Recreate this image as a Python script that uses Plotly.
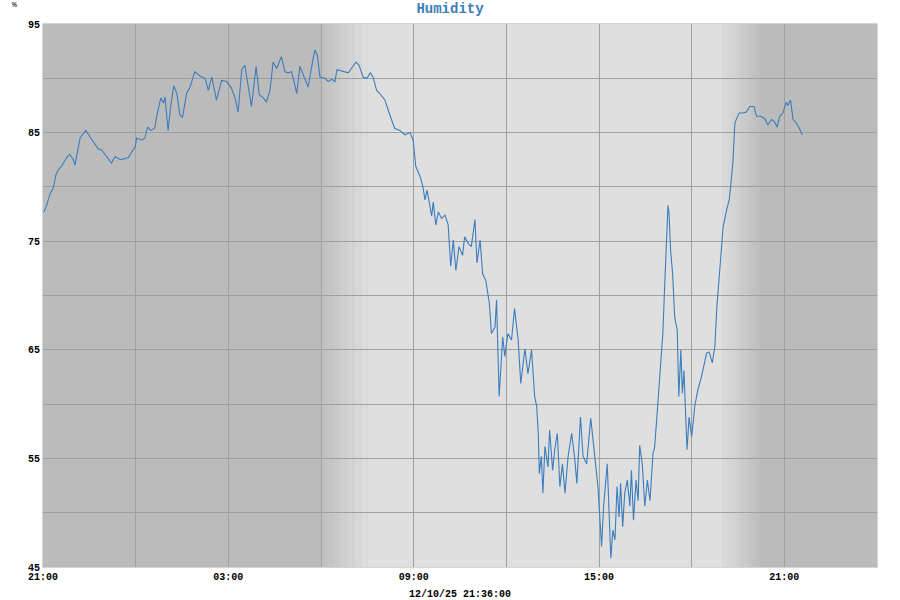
import plotly.graph_objects as go
import pandas as pd
import numpy as np

# minutes after 12/09/25 21:00 and relative humidity (%)
minutes = [2, 7, 14, 20, 25, 30, 36, 46, 52, 59, 62, 65, 72, 83, 91, 101, 107, 114, 124, 133,
           140, 150, 159, 166, 172, 179, 182, 192, 198, 203, 209, 217, 222, 229, 234, 237, 243, 248, 254, 260,
           266, 271, 279, 285, 295, 305, 315, 321, 328, 337, 347, 357, 366, 373, 379, 386, 392, 399, 405, 414,
           420, 428, 434, 441, 447, 454, 463, 470, 476, 483, 493, 499, 509, 515, 522, 528, 533, 538, 548, 554,
           561, 567, 571, 583, 593, 599, 608, 614, 622, 629, 636, 641, 648, 654, 664, 674, 683, 693, 703, 713,
           719, 724, 729, 733, 738, 742, 746, 755, 758, 763, 768, 774, 781, 787, 792, 797, 802, 808, 815, 819,
           826, 832, 839, 843, 849, 854, 860, 867, 871, 878, 881, 886, 893, 897, 903, 910, 916, 923, 928, 936,
           942, 949, 955, 959, 962, 964, 968, 971, 975, 981, 984, 990, 994, 999, 1004, 1009, 1014, 1020, 1027, 1033,
           1037, 1044, 1049, 1056, 1064, 1069, 1074, 1078, 1085, 1089, 1096, 1100, 1103, 1107, 1111, 1115, 1119, 1122, 1126, 1130,
           1135, 1140, 1143, 1147, 1152, 1156, 1159, 1164, 1169, 1174, 1179, 1185, 1188, 1193, 1198, 1204, 1208, 1211, 1214, 1216,
           1219, 1223, 1225, 1227, 1232, 1235, 1239, 1242, 1245, 1249, 1251, 1255, 1260, 1266, 1272, 1279, 1283, 1289, 1294, 1300,
           1305, 1309, 1315, 1321, 1328, 1333, 1335, 1340, 1344, 1347, 1352, 1360, 1366, 1373, 1381, 1386, 1394, 1402, 1408, 1415,
           1421, 1426, 1431, 1437, 1444, 1447, 1452, 1457, 1463, 1468, 1475]
humidity = [77.7, 78.3, 79.4, 79.9, 81.1, 81.6, 81.9, 82.7, 83.0, 82.5, 82.0, 82.8, 84.5, 85.2, 84.6, 83.9, 83.5, 83.4, 82.8, 82.2,
            82.8, 82.5, 82.6, 82.7, 83.2, 83.7, 84.5, 84.3, 84.5, 85.5, 85.2, 85.4, 86.8, 88.2, 87.7, 88.3, 85.2, 87.4, 89.3, 88.6,
            86.6, 86.4, 88.6, 89.1, 90.6, 90.2, 90.0, 88.9, 90.1, 88.0, 89.8, 89.7, 89.1, 88.2, 86.9, 90.8, 91.2, 88.9, 87.4, 91.1,
            88.5, 88.2, 87.8, 88.9, 91.5, 90.9, 92.0, 90.6, 90.5, 90.6, 88.6, 91.1, 90.0, 89.2, 91.1, 92.6, 92.1, 90.1, 90.0, 89.7,
            89.9, 89.7, 90.8, 90.6, 90.5, 90.9, 91.5, 91.2, 90.1, 90.0, 90.5, 90.1, 88.9, 88.6, 88.0, 86.6, 85.4, 85.2, 84.8, 85.0,
            84.3, 81.9, 81.3, 80.9, 80.0, 78.8, 79.7, 77.3, 78.6, 76.5, 77.7, 77.1, 77.4, 76.5, 72.7, 75.1, 72.3, 74.5, 73.7, 75.4,
            74.8, 74.5, 77.0, 73.0, 75.1, 72.0, 71.4, 69.3, 66.5, 67.1, 69.6, 60.7, 66.2, 64.4, 66.5, 65.9, 68.8, 65.9, 61.9, 65.1,
            62.8, 65.0, 60.7, 59.8, 57.3, 53.6, 55.2, 51.8, 56.1, 54.2, 57.6, 53.9, 55.8, 57.3, 52.4, 54.5, 51.8, 55.2, 57.3, 54.9,
            52.7, 58.8, 55.2, 54.5, 58.7, 56.4, 54.2, 52.4, 46.9, 50.6, 54.5, 49.3, 45.8, 48.4, 47.5, 52.4, 49.6, 52.7, 48.7, 51.8,
            53.0, 50.6, 53.9, 49.3, 53.0, 51.1, 56.2, 54.5, 50.6, 53.0, 51.1, 55.5, 56.0, 59.2, 62.2, 66.5, 71.4, 75.1, 78.3, 77.6,
            74.2, 72.0, 69.6, 68.0, 66.8, 60.7, 65.0, 61.0, 63.1, 57.6, 55.8, 58.8, 57.0, 59.8, 61.3, 62.5, 63.4, 64.7, 64.8, 63.8,
            65.3, 69.0, 72.6, 76.3, 77.9, 78.8, 79.7, 82.2, 85.9, 86.3, 86.8, 86.8, 86.9, 87.4, 87.4, 86.5, 86.5, 86.3, 85.7, 86.2,
            86.0, 85.5, 86.5, 86.8, 87.8, 87.5, 88.0, 86.2, 85.9, 85.5, 84.8]

x_tick_hours = [0, 3, 6, 9, 12, 15, 18, 21, 24, 27]
x_tick_labels = ['21:00', '', '03:00', '', '09:00', '', '15:00', '', '21:00', '']
y_ticks = [45, 50, 55, 60, 65, 70, 75, 80, 85, 90, 95]
y_tick_labels = ['45', '', '55', '', '65', '', '75', '', '85', '', '95']

# twilight transitions (hours after 21:00)
dawn = (9.0, 10.5)
dusk = (22.0, 23.3)

start = pd.Timestamp('2025-12-09 21:00')
times = start + pd.to_timedelta(minutes, unit='m')

NIGHT = np.array([187, 187, 187])
DAWN0 = np.array([192, 192, 192])
DAY = np.array([223, 223, 223])


def _hour(h):
    return start + pd.Timedelta(hours=h)


def _rgb(c):
    c = np.round(c).astype(int)
    return f'rgb({c[0]},{c[1]},{c[2]})'


def band_shapes(h0, h1, c0, c1, n=40):
    shapes = []
    edges = np.linspace(h0, h1, n + 1)
    for i in range(n):
        t = (i + 0.5) / n
        shapes.append(dict(type='rect', xref='x', yref='paper', x0=_hour(edges[i]), x1=_hour(edges[i + 1]) + pd.Timedelta(seconds=30),
                           y0=0, y1=1, fillcolor=_rgb(c0 + (c1 - c0) * t), line=dict(width=0), layer='below'))
    return shapes


shapes = band_shapes(dawn[0], dawn[1], DAWN0, DAY)
shapes.append(dict(type='rect', xref='x', yref='paper', x0=_hour(dawn[1]), x1=_hour(dusk[0]), y0=0, y1=1,
                   fillcolor=_rgb(DAY), line=dict(width=0), layer='below'))
shapes += band_shapes(dusk[0], dusk[1], DAY, NIGHT)

fig = go.Figure(go.Scatter(x=times, y=humidity, mode='lines', line=dict(color='#3b7dbd', width=1.1),
                           hoverinfo='x+y', showlegend=False))

mono = 'Liberation Mono, DejaVu Sans Mono, monospace'
fig.update_layout(width=900, height=600, paper_bgcolor='white', plot_bgcolor=_rgb(NIGHT),
                  margin=dict(l=43, r=23, t=24, b=33), shapes=shapes,
                  title=dict(text='Humidity', x=0.5, xanchor='center', y=0.995, yanchor='top',
                             font=dict(family=mono, size=14, color='#3b7dbd', weight='bold')),
                  font=dict(family=mono, size=10, color='black'))
fig.update_xaxes(range=[_hour(0), _hour(27)], tickvals=[_hour(h) for h in x_tick_hours], ticktext=x_tick_labels,
                 showgrid=True, gridcolor='#a0a0a0', gridwidth=1, zeroline=False, ticks='', ticklen=0,
                 tickfont=dict(family=mono, size=10, weight='bold'), showline=True, linecolor='#d4d4d4', mirror=True)
fig.update_yaxes(range=[45, 95], tickvals=y_ticks, ticktext=y_tick_labels, showgrid=True, gridcolor='#a0a0a0',
                 gridwidth=1, zeroline=False, ticks='', tickfont=dict(family=mono, size=10, weight='bold'),
                 showline=True, linecolor='#d4d4d4', mirror=True)
fig.add_annotation(text='%', xref='paper', yref='paper', x=-43 / 834 + 10 / 834, y=1 + 19 / 543, showarrow=False,
                   xanchor='left', yanchor='middle', font=dict(family=mono, size=8, color='black'))
fig.add_annotation(text='12/10/25 21:36:00', xref='paper', yref='paper', x=0.5, y=-27 / 543, showarrow=False,
                   xanchor='center', yanchor='middle', font=dict(family=mono, size=10, color='black', weight='bold'))

# drop the page's default body margin so the figure sits at the window's top-left corner
fig.write_html('out.html', config=dict(displayModeBar=False), post_script="document.body.style.margin='0';")
